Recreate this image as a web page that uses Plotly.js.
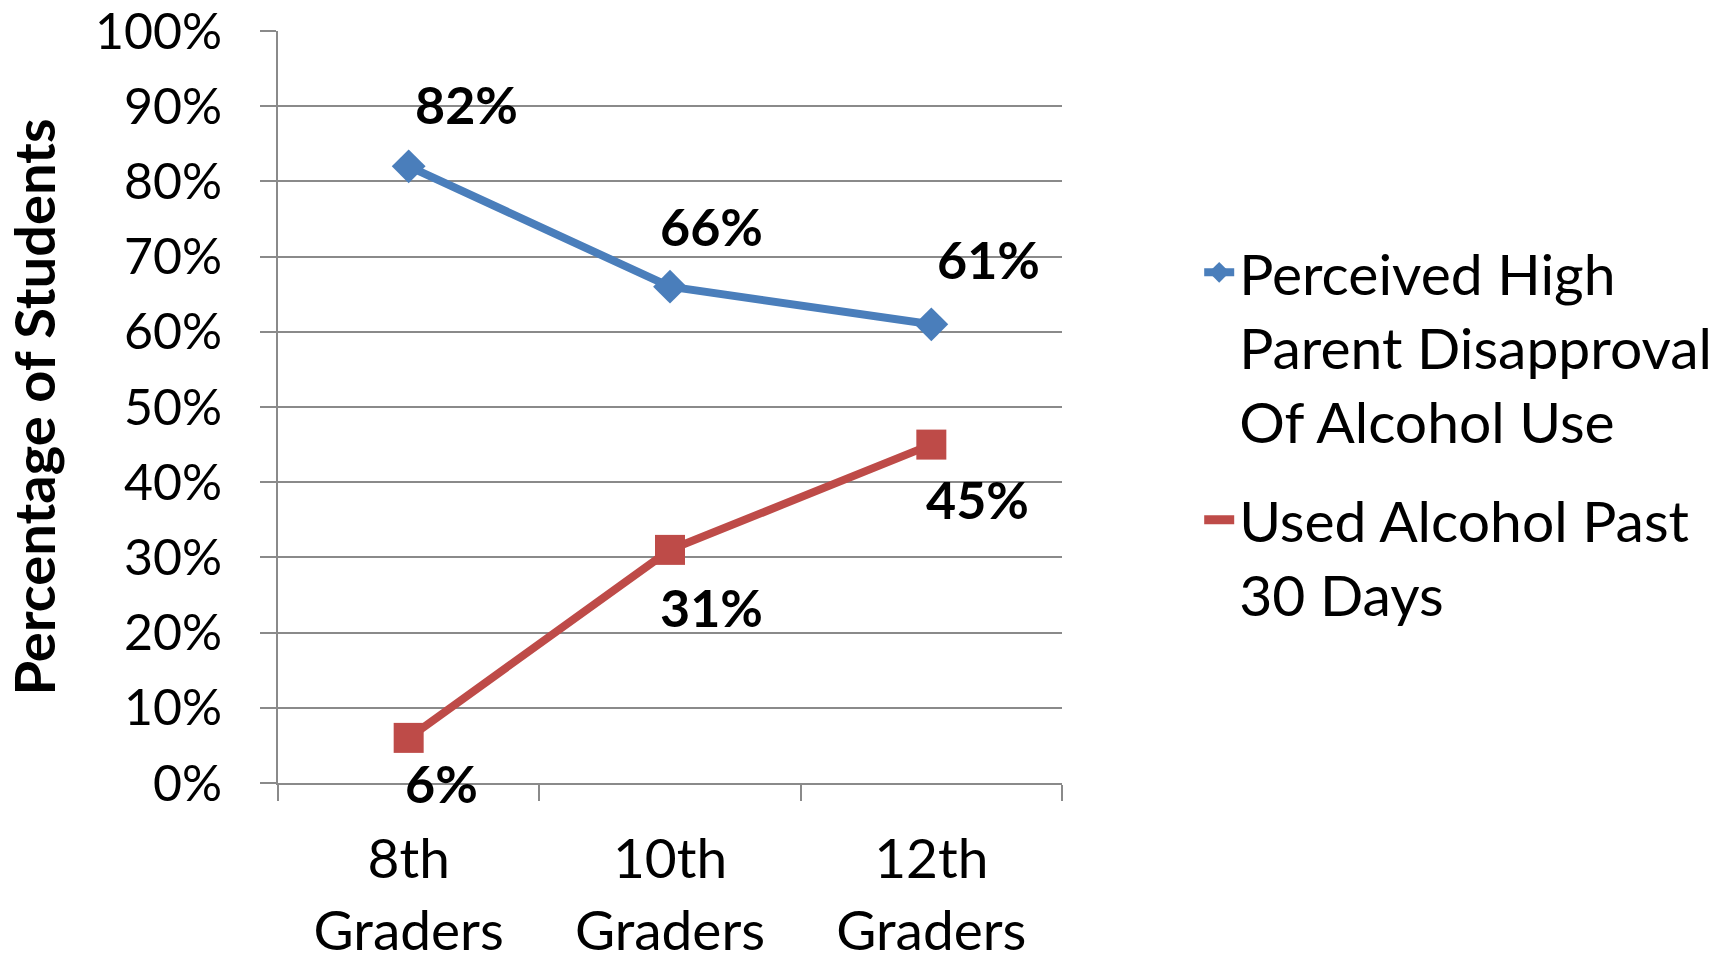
<!DOCTYPE html>
<html>
<head>
<meta charset="utf-8">
<script src="https://cdn.plot.ly/plotly-3.0.1.min.js"></script>
<style>
  html, body { margin: 0; padding: 0; background: #ffffff; }
  #chart { width: 1729px; height: 960px; }
</style>
</head>
<body>
<div id="chart"></div>
<script>
// ---- data ----
const categories = ["8th<br>Graders", "10th<br>Graders", "12th<br>Graders"];
const seriesNames = ["Perceived High<br>Parent Disapproval<br>Of Alcohol Use", "Used Alcohol Past<br>30 Days"];
const parentDisapproval = [0.82, 0.66, 0.61];
const usedAlcohol = [0.06, 0.31, 0.45];

// ---- styling (label offsets in px) ----
const blueDx = [58, 41, 57], blueDy = [62, 61, 65];
const redDx = [33, 41, 46], redDy = [-45, -57, -54];

const BLUE = "#4A7EBB";
const RED = "#BE4B48";
const GRID = "#8a8a8a";
const FONT = "Lato, 'Open Sans', sans-serif";

const traces = [
  {
    x: categories, y: parentDisapproval, type: "scatter", mode: "lines+markers",
    name: seriesNames[0], legendgroup: "a",
    line: { color: BLUE, width: 8 },
    marker: { symbol: "diamond", size: 26, color: BLUE },
    hoverinfo: "skip"
  },
  {
    x: categories, y: usedAlcohol, type: "scatter", mode: "lines+markers",
    name: seriesNames[1], legendgroup: "b", showlegend: false,
    line: { color: RED, width: 8 },
    marker: { symbol: "square", size: 30, color: RED },
    hoverinfo: "skip"
  },
  {
    x: [null], y: [null], type: "scatter", mode: "lines",
    name: seriesNames[1], legendgroup: "b",
    line: { color: RED, width: 9 },
    hoverinfo: "skip"
  }
];

const annotations = [];
function addLabels(vals, dx, dy) {
  vals.forEach((v, i) => {
    annotations.push({
      x: categories[i], y: v, xref: "x", yref: "y",
      text: Math.round(v * 100) + "%",
      showarrow: false, xshift: dx[i], yshift: dy[i],
      font: { family: FONT, size: 52, color: "#000000", weight: "bold" }
    });
  });
}
addLabels(parentDisapproval, blueDx, blueDy);
addLabels(usedAlcohol, redDx, redDy);

const layout = {
  width: 1729, height: 960,
  paper_bgcolor: "#ffffff", plot_bgcolor: "#ffffff",
  margin: { l: 278, r: 667, t: 31, b: 177 },
  font: { family: FONT, color: "#000000" },
  showlegend: true,
  legend: {
    x: 1.175, xanchor: "left", y: 0.737, yanchor: "top",
    font: { family: FONT, size: 57, color: "#000000" },
    valign: "top", traceorder: "grouped", tracegroupgap: 22,
    bgcolor: "rgba(0,0,0,0)"
  },
  xaxis: {
    type: "category", range: [-0.5, 2.5],
    showline: true, linecolor: GRID, linewidth: 2,
    ticks: "outside", tickson: "boundaries", ticklen: 16, tickwidth: 2, tickcolor: GRID,
    showgrid: false, zeroline: false,
    tickfont: { family: FONT, size: 55, color: "#000000" },
    ticklabelstandoff: 27, ticklabeloverflow: "allow", fixedrange: true
  },
  yaxis: {
    range: [0, 1], dtick: 0.1, tick0: 0, tickformat: ".0%",
    showline: true, linecolor: GRID, linewidth: 2,
    showgrid: true, gridcolor: GRID, gridwidth: 2,
    ticks: "outside", ticklen: 16, tickwidth: 2, tickcolor: GRID,
    zeroline: false,
    tickfont: { family: FONT, size: 50, color: "#000000" },
    ticklabelstandoff: 28, ticklabeloverflow: "allow",
    title: { text: "Percentage of Students", standoff: 44,
             font: { family: FONT, size: 56, color: "#000000", weight: "bold" } },
    fixedrange: true
  },
  annotations: annotations
};

Plotly.newPlot("chart", traces, layout, { displayModeBar: false, staticPlot: true });
</script>
</body>
</html>
